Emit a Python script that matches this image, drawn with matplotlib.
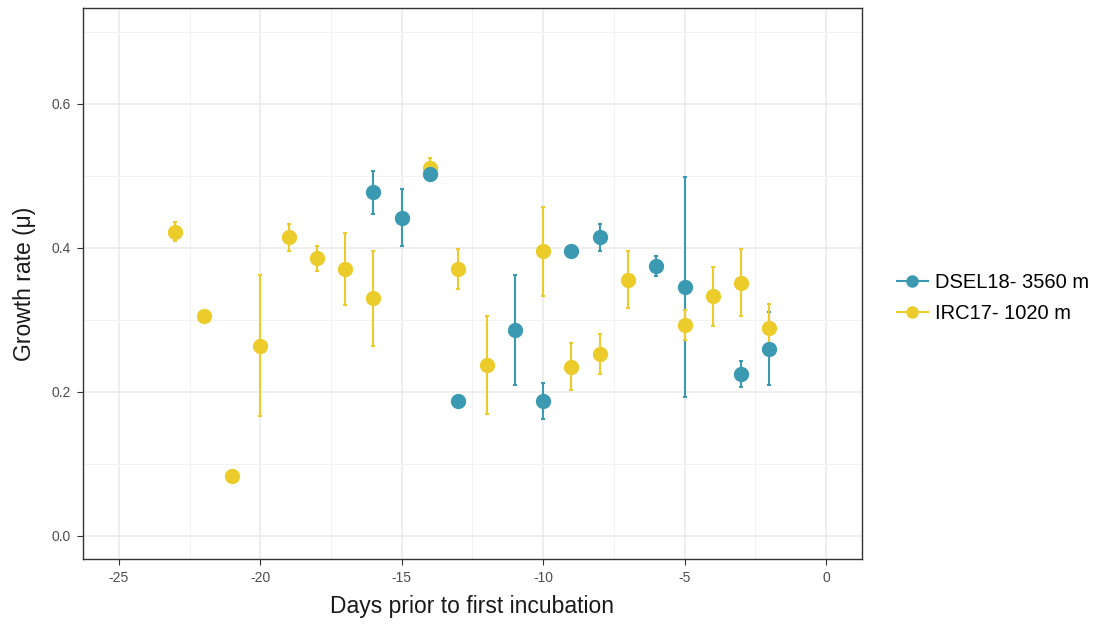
import numpy as np
import matplotlib.pyplot as plt
from matplotlib.ticker import MultipleLocator

plt.rcParams['font.family'] = ['Liberation Sans', 'DejaVu Sans']
plt.rcParams['axes.unicode_minus'] = False

# DSEL18 - 3560 m
days_dsel = [-16, -15, -14, -13, -11, -10, -9, -8, -6, -5, -3, -2]
mu_dsel = [0.477, 0.442, 0.503, 0.188, 0.286, 0.188, 0.395, 0.415, 0.375, 0.346, 0.225, 0.260]
lo_dsel = [0.447, 0.402, 0.503, 0.188, 0.209, 0.162, 0.395, 0.396, 0.361, 0.193, 0.207, 0.209]
hi_dsel = [0.507, 0.482, 0.503, 0.188, 0.362, 0.213, 0.395, 0.433, 0.389, 0.498, 0.243, 0.311]

# IRC17 - 1020 m
days_irc = [-23, -22, -21, -20, -19, -18, -17, -16, -14, -13, -12, -10, -9, -8, -7, -5, -4, -3, -2]
mu_irc = [0.422, 0.306, 0.083, 0.264, 0.415, 0.386, 0.371, 0.331, 0.511, 0.371, 0.238,
          0.395, 0.235, 0.253, 0.356, 0.293, 0.333, 0.351, 0.288]
lo_irc = [0.410, 0.306, 0.083, 0.167, 0.396, 0.368, 0.321, 0.264, 0.497, 0.343, 0.169,
          0.333, 0.202, 0.225, 0.316, 0.272, 0.292, 0.305, 0.254]
hi_irc = [0.436, 0.306, 0.083, 0.362, 0.433, 0.403, 0.421, 0.396, 0.525, 0.398, 0.306,
          0.456, 0.268, 0.281, 0.396, 0.314, 0.374, 0.398, 0.322]

blue = '#3B9AB2'
yellow = '#EBCC2A'

fig = plt.figure(figsize=(10.99, 6.24), dpi=100)
ax = fig.add_axes([0.0755, 0.1042, 0.7088, 0.883])

def err(mu, lo, hi):
    mu = np.array(mu); return [mu - np.array(lo), np.array(hi) - mu]

ax.errorbar(days_dsel, mu_dsel, yerr=err(mu_dsel, lo_dsel, hi_dsel), fmt='none',
            ecolor=blue, elinewidth=1.5, capsize=1.2, capthick=1.5, zorder=3)
ax.errorbar(days_irc, mu_irc, yerr=err(mu_irc, lo_irc, hi_irc), fmt='none',
            ecolor=yellow, elinewidth=1.5, capsize=1.2, capthick=1.5, zorder=3)
ax.plot(days_irc, mu_irc, 'o', color=yellow, markersize=10, zorder=4)
ax.plot(days_dsel, mu_dsel, 'o', color=blue, markersize=10, zorder=5)

# legend handles: line + dot, as ggplot draws them
h1 = ax.plot([], [], '-o', color=blue, markersize=8, lw=1.5)[0]
h2 = ax.plot([], [], '-o', color=yellow, markersize=8, lw=1.5)[0]
leg = fig.legend([h1, h2], ['DSEL18- 3560 m', 'IRC17- 1020 m'], loc='center left',
                 bbox_to_anchor=(0.8, 0.523), frameon=False, fontsize=14.5,
                 handlelength=1.5, handletextpad=0.35, labelspacing=0.6)

ax.set_xlim(-26.27, 1.27)
ax.set_ylim(-0.032, 0.733)
ax.xaxis.set_major_locator(MultipleLocator(5))
ax.xaxis.set_minor_locator(MultipleLocator(2.5))
ax.set_yticks([0.0, 0.2, 0.4, 0.6])
ax.yaxis.set_minor_locator(MultipleLocator(0.1))
ax.yaxis.set_major_formatter(plt.FuncFormatter(lambda v, p: f'{v:.1f}'))

ax.grid(which='major', color='#EBEBEB', linewidth=1.2, zorder=0)
ax.grid(which='minor', color='#F2F2F2', linewidth=0.7, zorder=0)
ax.set_axisbelow(True)
ax.tick_params(which='major', length=4, width=0.8, color='#333333',
               labelcolor='#4D4D4D', labelsize=10, pad=5)
ax.tick_params(which='minor', length=0)
for s in ax.spines.values():
    s.set_color('#333333')
    s.set_linewidth(1.0)

ax.set_xlabel('Days prior to first incubation', fontsize=16.5, color='#1A1A1A', labelpad=7)
ax.set_ylabel('Growth rate (μ)', fontsize=16.5, color='#1A1A1A', labelpad=11)

plt.savefig('out.png', dpi=100)
